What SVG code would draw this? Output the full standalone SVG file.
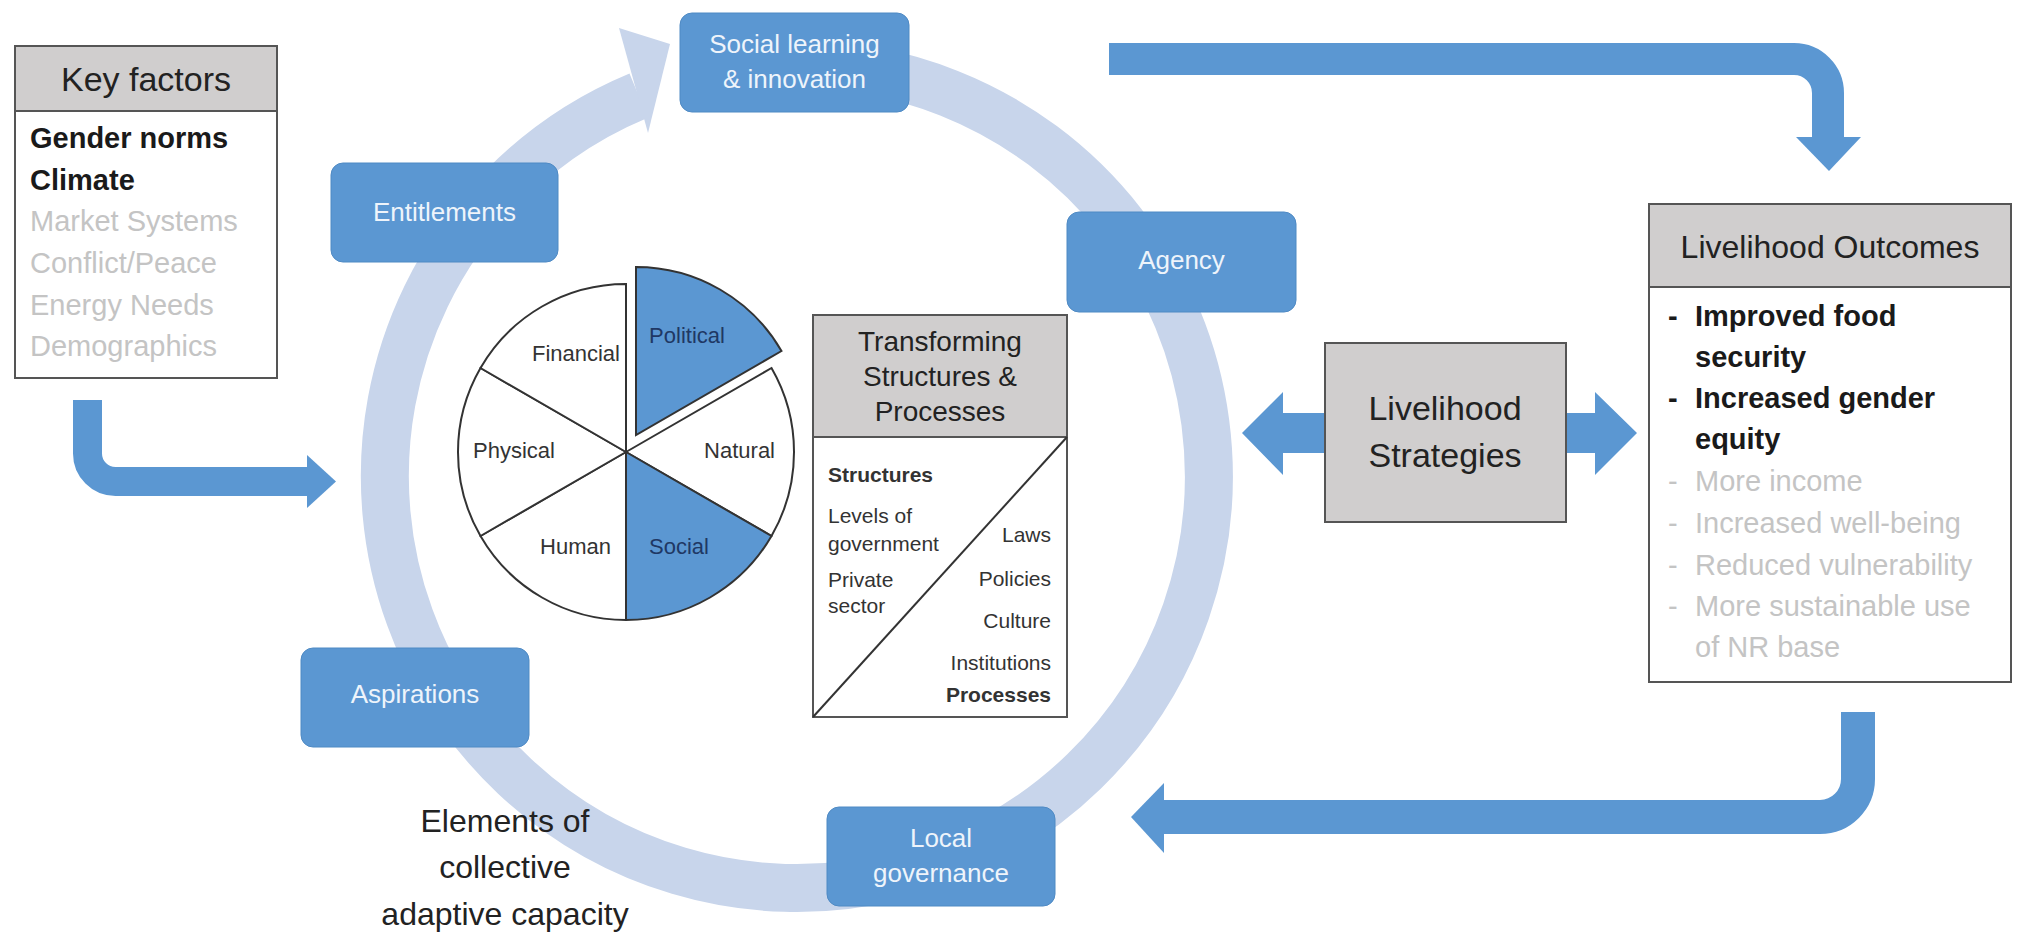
<svg xmlns="http://www.w3.org/2000/svg" width="2017" height="939" viewBox="0 0 2017 939">
<style>
text{font-family:"Liberation Sans",Arial,sans-serif}
.ring{fill:none;stroke:#c8d5eb;stroke-width:48}
.ringhead{fill:#c8d5eb}
.bbox{fill:#5b97d2;stroke:#4f8ac4;stroke-width:1}
.blab{fill:#eef4fb;font-size:26px;text-anchor:middle}
.gbox{fill:#d0cece;stroke:#555;stroke-width:2}
.wbox{fill:#fff;stroke:#555;stroke-width:2}
.title{fill:#222;text-anchor:middle}
.dark{fill:#1a1a1a;font-weight:bold}
.grey{fill:#c4c4c4}
.slice{stroke:#333;stroke-width:2}
.sw{fill:#fff}
.sb{fill:#5b97d2}
.plab{font-size:22px;fill:#333}
.plabb{font-size:22px;fill:#1f3864}
.small{font-size:21px;fill:#333}
.arr{fill:none;stroke:#5b97d2}
.head{fill:#5b97d2}
</style>

<g id="cycle">
<path class="ring" d="M761.1 65.6 A412 412 0 1 1 638.7 95.6"/>
<polygon class="ringhead" points="619,28 670,44 648,133"/>
</g>

<g id="connectors">
<path class="arr" stroke-width="29" d="M87.5 400 V453.5 A28 28 0 0 0 115.5 481.5 H308"/>
<polygon class="head" points="307,455 307,508 336,481.5"/>
<path class="arr" stroke-width="32" d="M1109 59 H1794 A34 34 0 0 1 1828 93 V138"/>
<polygon class="head" points="1796,137 1861,137 1829,171"/>
<path class="arr" stroke-width="34" d="M1858 712 V779 A38 38 0 0 1 1820 817 H1163"/>
<polygon class="head" points="1164,783 1164,853 1131,817"/>
<polygon class="head" points="1242,433 1283,392 1283,413 1327,413 1327,453 1283,453 1283,475"/>
<polygon class="head" points="1637,433 1595,392 1595,413 1565,413 1565,453 1595,453 1595,475"/>
</g>

<g id="key-factors">
<rect class="wbox" x="15" y="46" width="262" height="332"/>
<rect class="gbox" x="15" y="46" width="262" height="65"/>
<text class="title" x="146" y="91" font-size="34">Key factors</text>
<g font-size="29">
<text class="dark" x="30" y="148">Gender norms</text>
<text class="dark" x="30" y="190">Climate</text>
<text class="grey" x="30" y="231">Market Systems</text>
<text class="grey" x="30" y="273">Conflict/Peace</text>
<text class="grey" x="30" y="315">Energy Needs</text>
<text class="grey" x="30" y="356">Demographics</text>
</g>
</g>

<g id="social-learning">
<rect class="bbox" x="680" y="13" width="229" height="99" rx="12"/>
<text class="blab" x="794.5" y="53">Social learning</text>
<text class="blab" x="794.5" y="88">&amp; innovation</text>
</g>

<g id="entitlements">
<rect class="bbox" x="331" y="163" width="227" height="99" rx="12"/>
<text class="blab" x="444.5" y="221">Entitlements</text>
</g>

<g id="agency">
<rect class="bbox" x="1067" y="212" width="229" height="100" rx="12"/>
<text class="blab" x="1181.5" y="269">Agency</text>
</g>

<g id="aspirations">
<rect class="bbox" x="301" y="648" width="228" height="99" rx="12"/>
<text class="blab" x="415" y="703">Aspirations</text>
</g>

<g id="local-governance">
<rect class="bbox" x="827" y="807" width="228" height="99" rx="12"/>
<text class="blab" x="941" y="847">Local</text>
<text class="blab" x="941" y="882">governance</text>
</g>

<g id="capitals-pie">
<path class="slice sw" d="M626 452 L771.5 368 A168 168 0 0 1 771.5 536 Z"/>
<path class="slice sb" d="M626 452 L771.5 536 A168 168 0 0 1 626 620 Z"/>
<path class="slice sw" d="M626 452 L626 620 A168 168 0 0 1 480.5 536 Z"/>
<path class="slice sw" d="M626 452 L480.5 536 A168 168 0 0 1 480.5 368 Z"/>
<path class="slice sw" d="M626 452 L480.5 368 A168 168 0 0 1 626 284 Z"/>
<path class="slice sb" d="M636 435 L636 267 A168 168 0 0 1 781.5 351 Z"/>
<text class="plabb" x="687" y="343" text-anchor="middle">Political</text>
<text class="plab" x="620" y="361" text-anchor="end">Financial</text>
<text class="plab" x="473" y="458">Physical</text>
<text class="plab" x="775" y="458" text-anchor="end">Natural</text>
<text class="plab" x="611" y="554" text-anchor="end">Human</text>
<text class="plabb" x="649" y="554">Social</text>
</g>

<g id="transforming-structures">
<rect class="wbox" x="813" y="315" width="254" height="402"/>
<rect class="gbox" x="813" y="315" width="254" height="122"/>
<line x1="813" y1="717" x2="1067" y2="437" stroke="#333" stroke-width="2"/>
<g font-size="28">
<text class="title" x="940" y="351">Transforming</text>
<text class="title" x="940" y="386">Structures &amp;</text>
<text class="title" x="940" y="421">Processes</text>
</g>
<text class="small" x="828" y="482" font-weight="bold" fill="#222">Structures</text>
<text class="small" x="828" y="523">Levels of</text>
<text class="small" x="828" y="551">government</text>
<text class="small" x="828" y="587">Private</text>
<text class="small" x="828" y="613">sector</text>
<g text-anchor="end">
<text class="small" x="1051" y="542">Laws</text>
<text class="small" x="1051" y="586">Policies</text>
<text class="small" x="1051" y="628">Culture</text>
<text class="small" x="1051" y="670">Institutions</text>
<text class="small" x="1051" y="702" font-weight="bold" fill="#222">Processes</text>
</g>
</g>

<g id="livelihood-strategies">
<rect class="gbox" x="1325" y="343" width="241" height="179"/>
<text class="title" x="1445" y="420" font-size="34">Livelihood</text>
<text class="title" x="1445" y="467" font-size="34">Strategies</text>
</g>

<g id="livelihood-outcomes">
<rect class="wbox" x="1649" y="204" width="362" height="478"/>
<rect class="gbox" x="1649" y="204" width="362" height="83"/>
<text class="title" x="1830" y="258" font-size="32">Livelihood Outcomes</text>
<g font-size="29">
<text class="dark" x="1668" y="326">-</text>
<text class="dark" x="1695" y="326">Improved food</text>
<text class="dark" x="1695" y="367">security</text>
<text class="dark" x="1668" y="408">-</text>
<text class="dark" x="1695" y="408">Increased gender</text>
<text class="dark" x="1695" y="449">equity</text>
<text class="grey" x="1668" y="491">-</text>
<text class="grey" x="1695" y="491">More income</text>
<text class="grey" x="1668" y="533">-</text>
<text class="grey" x="1695" y="533">Increased well-being</text>
<text class="grey" x="1668" y="575">-</text>
<text class="grey" x="1695" y="575">Reduced vulnerability</text>
<text class="grey" x="1668" y="616">-</text>
<text class="grey" x="1695" y="616">More sustainable use</text>
<text class="grey" x="1695" y="657">of NR base</text>
</g>
</g>

<g id="cycle-label">
<g font-size="32" fill="#222" text-anchor="middle">
<text x="505" y="832">Elements of</text>
<text x="505" y="878">collective</text>
<text x="505" y="925">adaptive capacity</text>
</g>
</g>
</svg>
